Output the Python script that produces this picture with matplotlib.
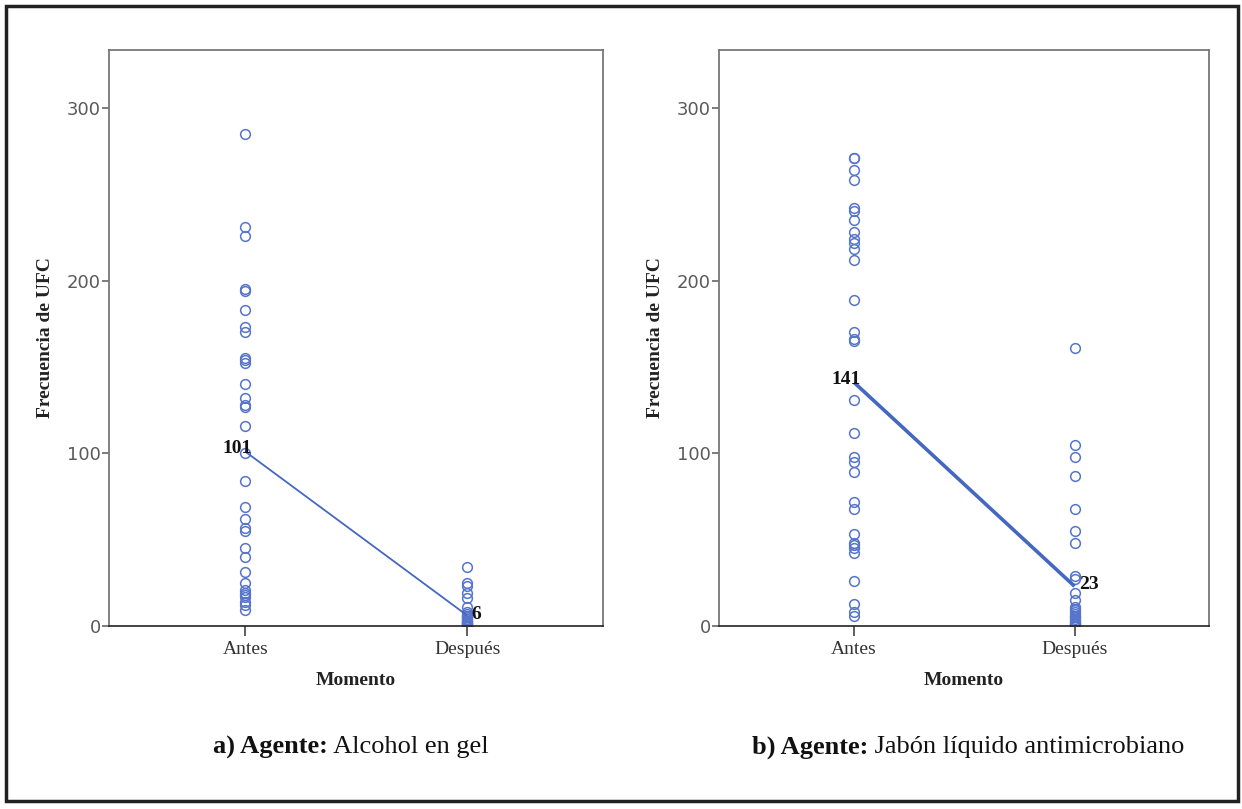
import matplotlib
matplotlib.use('Agg')
from matplotlib import pyplot as plt
from matplotlib.patches import Rectangle

# categories on the x axis
momentos = ['Antes', 'Después']

# a) Alcohol en gel - UFC per sample
alcohol_antes = [285, 231, 226, 195, 194, 183, 173, 170, 155, 154, 152, 140, 132,
                 128, 127, 116, 100, 84, 69, 62, 57, 55, 45, 40, 31, 25, 21, 19,
                 18, 17, 14, 12, 9]
alcohol_despues = [34, 25, 23, 19, 16, 11, 8, 7, 6, 6, 5, 5, 4, 4, 3, 3, 3, 2, 2,
                   2, 1, 1, 1, 0, 0, 0]
alcohol_media = [101, 6]

# b) Jabón líquido antimicrobiano - UFC per sample
jabon_antes = [271, 271, 264, 258, 242, 240, 235, 228, 224, 222, 218, 212, 189,
               170, 166, 165, 131, 112, 98, 95, 89, 72, 68, 53, 48, 47, 45, 42,
               26, 13, 8, 6]
jabon_despues = [161, 105, 98, 87, 68, 55, 48, 29, 27, 19, 15, 11, 10, 9, 8, 7,
                 6, 5, 5, 4, 3, 3, 2, 2, 1, 1, 0, 0]
jabon_media = [141, 23]

y_ticks = [0, 100, 200, 300]

BLUE = '#5675cb'
LINE_BLUE = '#4468c2'
W, H = 1242, 809


def draw_panel(ax, antes, despues, media, line_width):
    ax.plot([0] * len(antes), antes, 'o', mfc='none', mec=BLUE, ms=7, mew=1.1)
    ax.plot([1] * len(despues), despues, 'o', mfc='none', mec=BLUE, ms=7, mew=1.1)
    ax.plot([0, 1], media, color=LINE_BLUE, lw=line_width, solid_capstyle='butt')

    ax.annotate(str(media[0]), (0, media[0]), xytext=(5, 2), textcoords='offset points',
                ha='right', va='center', fontsize=14, fontweight='bold',
                family='Liberation Serif', color='#111')
    ax.annotate(str(media[1]), (1, media[1]), xytext=(3, 1), textcoords='offset points',
                ha='left', va='center', fontsize=14, fontweight='bold',
                family='Liberation Serif', color='#111')

    ax.set_xlim(-0.613, 1.61)
    ax.set_ylim(0, 333.5)
    ax.set_xticks([0, 1])
    ax.set_xticklabels(momentos, family='Liberation Serif', fontsize=14, color='#333')
    ax.set_yticks(y_ticks)
    ax.set_yticklabels([str(t) for t in y_ticks], family='DejaVu Sans',
                       fontsize=13, color='#5a5a5a')
    ax.tick_params(axis='y', length=5, width=1.2, color='#666', pad=1)
    ax.tick_params(axis='x', length=7, width=1.2, color='#444', pad=4)

    for side in ['left', 'top', 'right']:
        ax.spines[side].set_color('#777')
        ax.spines[side].set_linewidth(1.3)
    ax.spines['bottom'].set_color('#222')
    ax.spines['bottom'].set_linewidth(1.2)

    ax.set_xlabel('Momento', family='Liberation Serif', fontsize=14,
                  fontweight='bold', color='#222', labelpad=10)
    ax.set_ylabel('Frecuencia de UFC', family='Liberation Serif', fontsize=14,
                  fontweight='bold', color='#222', labelpad=9)


def caption(fig, x_center, y, bold_part, normal_part):
    renderer = fig.canvas.get_renderer()
    size = 19
    t1 = fig.text(0, y, bold_part, fontsize=size, fontweight='bold',
                  family='Liberation Serif', va='center', color='#111')
    t2 = fig.text(0, y, ' ' + normal_part, fontsize=size,
                  family='Liberation Serif', va='center', color='#111')
    w1 = t1.get_window_extent(renderer).width / W
    w2 = t2.get_window_extent(renderer).width / W
    start = x_center - (w1 + w2) / 2
    t1.set_x(start)
    t2.set_x(start + w1)


def main():
    fig = plt.figure(figsize=(W / 100, H / 100), dpi=100)

    ax_a = fig.add_axes([109 / W, 1 - 626 / H, 494 / W, 576 / H])
    ax_b = fig.add_axes([719 / W, 1 - 626 / H, 490 / W, 576 / H])

    draw_panel(ax_a, alcohol_antes, alcohol_despues, alcohol_media, 1.3)
    draw_panel(ax_b, jabon_antes, jabon_despues, jabon_media, 2.6)

    caption(fig, 351 / W, 1 - 747 / H, 'a) Agente:', 'Alcohol en gel')
    caption(fig, 968 / W, 1 - 747 / H, 'b) Agente:', 'Jabón líquido antimicrobiano')

    fig.patches.append(Rectangle((6 / W, 1 - 801 / H), 1232 / W, 795 / H,
                                 transform=fig.transFigure, fill=False,
                                 edgecolor='#222', linewidth=2.5))

    fig.savefig('out.png', dpi=100)


if __name__ == '__main__':
    main()
